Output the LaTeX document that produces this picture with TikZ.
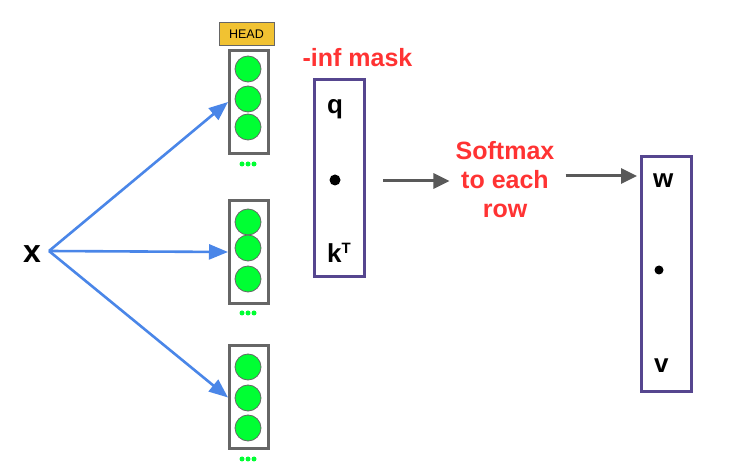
\documentclass[tikz,border=0pt]{standalone}
\usepackage{fontspec}
\setmainfont{Liberation Sans}
\usetikzlibrary{arrows.meta}
\definecolor{blueA}{HTML}{4A86E8}
\definecolor{grayA}{HTML}{595959}
\definecolor{grayB}{HTML}{666666}
\definecolor{greenA}{HTML}{00FF33}
\definecolor{headY}{HTML}{F1C232}
\definecolor{purpA}{HTML}{56468F}
\definecolor{redA}{HTML}{FF3333}
\tikzset{
  headbox/.style={draw=grayB, line width=3pt, fill=white, minimum width=39pt, minimum height=103pt, inner sep=0pt},
  neuron/.style={circle, draw=grayB, line width=0.8pt, fill=greenA, minimum size=26pt, inner sep=0pt},
  gdot/.style={circle, fill=greenA, minimum size=5pt, inner sep=0pt},
  bdot/.style={circle, fill=black, inner sep=0pt},
  headlabel/.style={draw=grayB, line width=1pt, fill=headY, minimum width=55pt, minimum height=23pt, inner sep=0pt, font=\fontsize{12.5}{14}\selectfont},
  matbox/.style={draw=purpA, line width=3pt, minimum width=50pt, inner sep=0pt},
  bigtext/.style={font=\fontsize{26}{30}\selectfont\bfseries, inner sep=0pt, anchor=base west},
  redtext/.style={text=redA, font=\fontsize{25}{29}\selectfont\bfseries, inner sep=0pt, align=center},
  bluearrow/.style={draw=blueA, line width=2.6pt, -{Triangle[length=19pt,width=15pt]}},
  grayarrow/.style={draw=grayA, line width=3pt, -{Triangle[length=16pt,width=15pt]}},
}
\begin{document}
\begin{tikzpicture}[x=1pt,y=-1pt]
\useasboundingbox (0,0) rectangle (729,470);
\fill[white] (0,0) rectangle (729,470);

% input x
\node[font=\fontsize{32}{36}\selectfont\bfseries, inner sep=0pt, anchor=base] (x) at (32,263) {x};
\coordinate (xo) at (49,251);

% heads
\node[headlabel] (head) at (246.5,34.5) {HEAD};
\node[headbox] (h1) at (249,102) {};
\node[headbox] (h2) at (249,252) {};
\node[headbox] (h3) at (249,397.5) {};

\node[neuron] (n11) at (248,69) {};
\node[neuron] (n12) at (248,99) {};
\node[neuron] (n13) at (248,127) {};
\node[neuron] (n21) at (248,222) {};
\node[neuron] (n22) at (248,248) {};
\node[neuron] (n23) at (248,279) {};
\node[neuron] (n31) at (248,367) {};
\node[neuron] (n32) at (248,398) {};
\node[neuron] (n33) at (248,428) {};

\foreach \i/\y in {1/164,2/313,3/459}{
  \node[gdot] (d\i a) at (242,\y) {};
  \node[gdot] (d\i b) at (248,\y) {};
  \node[gdot] (d\i c) at (254,\y) {};
}

\draw[bluearrow] (xo) -- (h1.west);
\draw[bluearrow] (xo) -- (h2.west);
\draw[bluearrow] (xo) -- (h3.west);

% q . k^T box
\node[redtext, anchor=base] (mask) at (357.5,67) {-inf mask};
\node[matbox, minimum height=197pt] (qbox) at (339.5,178) {};
\node[bigtext] (q) at (327,114) {q};
\node[bdot, minimum size=11pt] (qdot) at (335,180) {};
\node[bigtext] (k) at (327,263) {k\textsuperscript{\fontsize{15}{15}\selectfont T}};

% softmax
\node[redtext] (soft) at (505,180) {Softmax\\to each\\row};

% w . v box
\node[matbox, minimum height=235pt] (wbox) at (666.5,274) {};
\node[bigtext] (w) at (653,188) {w};
\node[bdot, minimum size=9pt] (wdot) at (659,270) {};
\node[bigtext] (v) at (654,373) {v};
\coordinate (wIn) at (wbox.west |- soft.east);

\draw[grayarrow] ([xshift=17pt,yshift=-3pt]qbox.east) -- ([xshift=-6pt,yshift=-1pt]soft.west);
\draw[grayarrow] ([xshift=11pt,yshift=4pt]soft.east) -- ([xshift=-3pt,yshift=4pt]wIn);
\end{tikzpicture}
\end{document}
